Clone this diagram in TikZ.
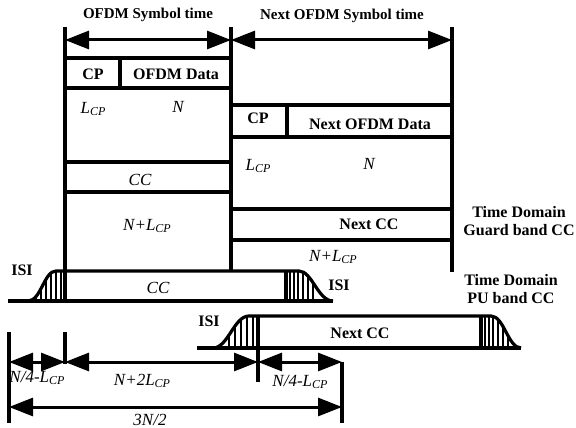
\documentclass[tikz,border=0pt]{standalone}
\usepackage{fontspec}
\setmainfont{Liberation Serif}
\usetikzlibrary{arrows.meta}

\newcommand{\lcp}{\textit{L}\raisebox{-0.3ex}{\fontsize{12}{13}\selectfont\textit{CP}}}

\begin{document}
\begin{tikzpicture}[
        x=1pt, y=-1pt,
        bar/.style={line width=3.2pt},
        hatch/.style={line width=1.4pt},
        lbl/.style={font=\bfseries\fontsize{16}{18}\selectfont, inner sep=0pt, align=center},
        hdr/.style={font=\bfseries\fontsize{15}{17}\selectfont, inner sep=0pt},
        ilbl/.style={font=\itshape\fontsize{17}{19}\selectfont, inner sep=0pt},
        dim/.style={line width=3pt, {Triangle[length=24pt,width=18pt]}-{Triangle[length=24pt,width=18pt]}}
    ]
        \useasboundingbox (0,0) rectangle (576,428);

        % column lines and rows
        \coordinate (c0) at (65,27);
        \coordinate (c1) at (231,27);
        \coordinate (c2) at (452,27);
        \draw[bar] (c0) -- (65,301);
        \draw[bar] (c1) -- (231,271);
        \draw[bar] (c2) -- (452,272);
        \draw[bar] (65,58) -- (231,58);
        \draw[bar] (65,88) -- (231,88);
        \draw[bar] (120,58) -- (120,88);
        \draw[bar] (65,162) -- (231,162);
        \draw[bar] (65,192) -- (231,192);
        \draw[bar] (231,105) -- (452,105);
        \draw[bar] (231,137) -- (452,137);
        \draw[bar] (287,105) -- (287,137);
        \draw[bar] (231,209) -- (452,209);
        \draw[bar] (231,240) -- (452,240);

        % symbol times
        \draw[dim] (65,40) -- (231,40);
        \draw[dim] (231,40) -- (452,40);
        \node[hdr] (t1) at (148,15) {OFDM Symbol time};
        \node[hdr] (t2) at (342,16) {Next OFDM Symbol time};

        \node[lbl] (cp1) at (93,74) {CP};
        \node[lbl] (data1) at (176,74) {OFDM Data};
        \node[ilbl] (l1) at (93,109) {\lcp};
        \node[ilbl] (n1) at (178,107) {N};
        \node[ilbl] (cc1) at (140,180) {CC};
        \node[ilbl] (nl1) at (147,226) {N+\lcp};

        \node[lbl] (cp2) at (258,118) {CP};
        \node[lbl] (data2) at (370,124) {Next OFDM Data};
        \node[ilbl] (l2) at (258,166) {\lcp};
        \node[ilbl] (n2) at (369,164) {N};
        \node[lbl] (cc2) at (369,224) {Next CC};
        \node[ilbl] (nl2) at (333,257) {N+\lcp};

        \node[lbl] (guard) at (519,221) {Time Domain\\Guard band CC};
        \node[lbl] (pu) at (511,289) {Time Domain\\PU band CC};

        % CC pulse
        \draw[bar] (8,301) -- (333,301);
        \draw[bar] (28,301) .. controls (41,301) and (44,271) .. (56,271) -- (299,271)
            .. controls (312,271) and (318,301) .. (333,301);
        \begin{scope}
            \clip (28,301) .. controls (41,301) and (44,271) .. (56,271) -- (65,271) -- (65,301) -- cycle;
            \foreach \x in {36,41,46,51,56,61}
                \draw[hatch] (\x,265) -- (\x,305);
        \end{scope}
        \begin{scope}
            \clip (286,271) -- (299,271) .. controls (312,271) and (318,301) .. (333,301) -- (286,301) -- cycle;
            \foreach \x in {290,294,298,303,308,313}
                \draw[hatch] (\x,265) -- (\x,305);
        \end{scope}
        \draw[bar] (286,271) -- (286,301);
        \node[ilbl] (cc3) at (158,288) {CC};
        \node[lbl] (isi1) at (22,270) {ISI};
        \node[lbl] (isi2) at (339,285) {ISI};

        % Next CC pulse
        \draw[bar] (197,348) -- (521,348);
        \draw[bar] (213,348) .. controls (228,348) and (234,316) .. (249,316) -- (491,316)
            .. controls (504,316) and (508,348) .. (521,348);
        \begin{scope}
            \clip (213,348) .. controls (228,348) and (234,316) .. (249,316) -- (258,316) -- (258,348) -- cycle;
            \foreach \x in {229,235,241,247,253}
                \draw[hatch] (\x,310) -- (\x,352);
        \end{scope}
        \begin{scope}
            \clip (480,316) -- (491,316) .. controls (504,316) and (508,348) .. (521,348) -- (480,348) -- cycle;
            \foreach \x in {485,489,493,498,503,508}
                \draw[hatch] (\x,310) -- (\x,352);
        \end{scope}
        \draw[bar] (481,316) -- (481,348);
        \node[lbl] (cc4) at (360,333) {Next CC};
        \node[lbl] (isi3) at (209,321) {ISI};

        % dimensions
        \coordinate (d0) at (9,362);
        \coordinate (d1) at (65,362);
        \coordinate (d2) at (258,362);
        \coordinate (d3) at (342,362);
        \coordinate (e0) at (9,407);
        \coordinate (e3) at (342,407);
        \draw[bar] (9,332) -- (9,423);
        \draw[bar] (65,332) -- (65,364);
        \draw[bar] (258,316) -- (258,382);
        \draw[bar] (342,362) -- (342,423);
        \draw[dim] (d0) -- (d1);
        \draw[dim] (d1) -- (d2);
        \draw[dim] (d2) -- (d3);
        \draw[dim] (e0) -- (e3);
        \node[ilbl] (w1) at (37,378) {N/4-\lcp};
        \node[ilbl] (w2) at (142,381) {N+2\lcp};
        \node[ilbl] (w3) at (300,382) {N/4-\lcp};
        \node[ilbl] (w4) at (150,420) {3N/2};
    \end{tikzpicture}
\end{document}
